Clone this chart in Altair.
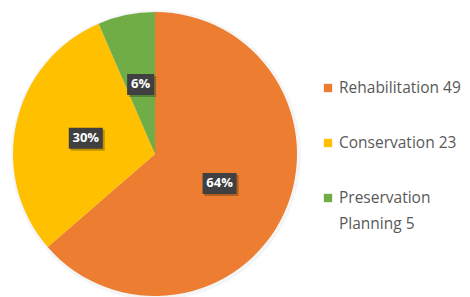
import altair as alt
import pandas as pd

categories = ["Rehabilitation", "Conservation", "Preservation Planning"]
values = [49, 23, 5]
colors = ["#ED7D31", "#FFC000", "#70AD47"]
legend_labels = ["Rehabilitation 49", "Conservation 23", "Preservation Planning 5"]

df = pd.DataFrame({
    "category": categories,
    "value": values,
    "order": list(range(len(categories))),
    "legend": legend_labels,
})

CX, CY, R, LR = 147, 146, 142, 71
FONT = "Open Sans"

color_scale = alt.Scale(domain=categories, range=colors)

base = alt.Chart(df)

shadow = base.mark_arc(color="#000000", opacity=0.04, radius=R + 3).encode(
    theta=alt.Theta("value:Q", stack=True),
    order=alt.Order("order:Q"),
    x=alt.value(CX + 1), y=alt.value(CY + 1),
)

pie = base.mark_arc(radius=R).encode(
    theta=alt.Theta("value:Q", stack=True),
    color=alt.Color("category:N", scale=color_scale, legend=None),
    order=alt.Order("order:Q"),
    x=alt.value(CX), y=alt.value(CY),
)

lab = base.transform_joinaggregate(total="sum(value)").transform_window(
    cum="sum(value)", sort=[alt.SortField("order")], frame=[None, 0]
).transform_calculate(
    ang="(datum.cum - datum.value/2)/datum.total*2*PI",
    pct="round(datum.value/datum.total*100) + '%'",
).transform_calculate(
    cx=f"{CX} + {LR}*sin(datum.ang)",
    cy=f"{CY} - {LR}*cos(datum.ang)",
    w="7*length(datum.pct) + 13",
).transform_calculate(
    x1="datum.cx - datum.w/2", x2="datum.cx + datum.w/2",
    y1="datum.cy - 10.5", y2="datum.cy + 10.5",
    sx1="datum.cx - datum.w/2 + 2", sx2="datum.cx + datum.w/2 + 2",
    sy1="datum.cy - 8.5", sy2="datum.cy + 12.5",
)

box_shadow = lab.mark_rect(color="#000000", opacity=0.25).encode(
    x=alt.X("sx1:Q", scale=None), x2="sx2:Q",
    y=alt.Y("sy1:Q", scale=None), y2="sy2:Q",
)
boxes = lab.mark_rect(color="#404040").encode(
    x=alt.X("x1:Q", scale=None), x2="x2:Q",
    y=alt.Y("y1:Q", scale=None), y2="y2:Q",
)
texts = lab.mark_text(color="white", fontWeight="bold", fontSize=13, font=FONT,
                      align="center", baseline="middle").encode(
    x=alt.X("cx:Q", scale=None), y=alt.Y("cy:Q", scale=None), text="pct:N",
)

leg = base.transform_calculate(
    ly="80 + datum.order*55",
    lines="datum.legend == 'Preservation Planning 5' ? 'Preservation\\nPlanning 5' : datum.legend",
)
leg_sym = leg.mark_point(shape="square", filled=True, opacity=1, size=70).encode(
    x=alt.value(320), y=alt.Y("ly:Q", scale=None),
    color=alt.Color("category:N", scale=color_scale, legend=None),
)
leg_txt = leg.mark_text(align="left", baseline="top", fontSize=15.5, font=FONT,
                        color="#595959", lineHeight=26, lineBreak="\n", dy=-7).encode(
    x=alt.value(331), y=alt.Y("ly:Q", scale=None), text="lines:N",
)

chart = alt.layer(shadow, pie, box_shadow, boxes, texts, leg_sym, leg_txt).properties(
    width=454, height=289, padding=0, autosize="none",
).configure_view(stroke=None)

chart.save("out.html", embed_options={"renderer": "svg", "actions": False})
